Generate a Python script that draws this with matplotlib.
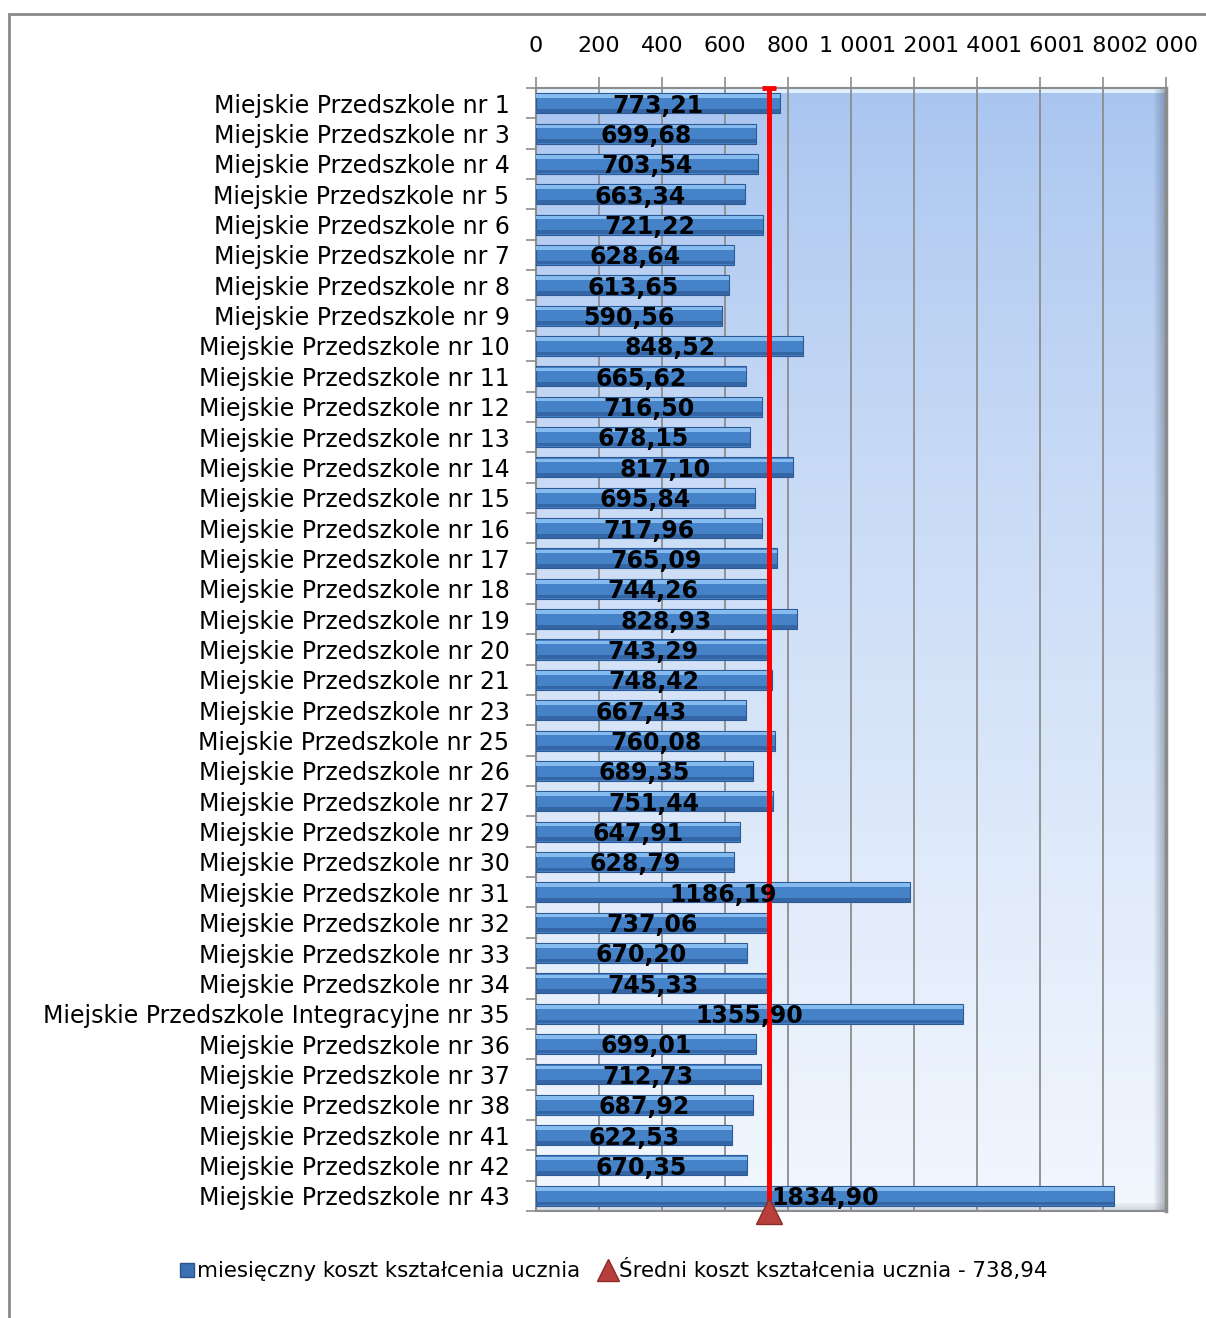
import numpy as np
import matplotlib
matplotlib.use("Agg")
import matplotlib.pyplot as plt
from matplotlib.lines import Line2D
from matplotlib.patches import Rectangle

# Dane: miesięczny koszt kształcenia ucznia w przedszkolach miejskich
przedszkola = [
    "Miejskie Przedszkole nr 1", "Miejskie Przedszkole nr 3", "Miejskie Przedszkole nr 4",
    "Miejskie Przedszkole nr 5", "Miejskie Przedszkole nr 6", "Miejskie Przedszkole nr 7",
    "Miejskie Przedszkole nr 8", "Miejskie Przedszkole nr 9", "Miejskie Przedszkole nr 10",
    "Miejskie Przedszkole nr 11", "Miejskie Przedszkole nr 12", "Miejskie Przedszkole nr 13",
    "Miejskie Przedszkole nr 14", "Miejskie Przedszkole nr 15", "Miejskie Przedszkole nr 16",
    "Miejskie Przedszkole nr 17", "Miejskie Przedszkole nr 18", "Miejskie Przedszkole nr 19",
    "Miejskie Przedszkole nr 20", "Miejskie Przedszkole nr 21", "Miejskie Przedszkole nr 23",
    "Miejskie Przedszkole nr 25", "Miejskie Przedszkole nr 26", "Miejskie Przedszkole nr 27",
    "Miejskie Przedszkole nr 29", "Miejskie Przedszkole nr 30", "Miejskie Przedszkole nr 31",
    "Miejskie Przedszkole nr 32", "Miejskie Przedszkole nr 33", "Miejskie Przedszkole nr 34",
    "Miejskie Przedszkole Integracyjne nr 35", "Miejskie Przedszkole nr 36",
    "Miejskie Przedszkole nr 37", "Miejskie Przedszkole nr 38", "Miejskie Przedszkole nr 41",
    "Miejskie Przedszkole nr 42", "Miejskie Przedszkole nr 43",
]
koszt = [
    773.21, 699.68, 703.54, 663.34, 721.22, 628.64, 613.65, 590.56, 848.52,
    665.62, 716.50, 678.15, 817.10, 695.84, 717.96, 765.09, 744.26, 828.93,
    743.29, 748.42, 667.43, 760.08, 689.35, 751.44, 647.91, 628.79, 1186.19,
    737.06, 670.20, 745.33, 1355.90, 699.01, 712.73, 687.92, 622.53, 670.35,
    1834.90,
]
sredni_koszt = 738.94
x_ticks = [0, 200, 400, 600, 800, 1000, 1200, 1400, 1600, 1800, 2000]

seria_1 = "miesięczny koszt kształcenia ucznia"
seria_2 = "Średni koszt kształcenia ucznia - 738,94"


def format_pl(v):
    return f"{v:.2f}".replace(".", ",")


def main():
    plt.rcParams["font.family"] = ["DejaVu Sans"]
    fig = plt.figure(figsize=(12.06, 13.18), dpi=100)

    # ramka wykresu (szara linia po lewej i u góry)
    fig.patches.append(Rectangle((9 / 1206, -0.1), 1.2, 1 - 14 / 1318 + 0.1,
                                 transform=fig.transFigure, fill=False,
                                 edgecolor="#8a8a8a", lw=2))

    ax = fig.add_axes([536 / 1206, 1 - 1211 / 1318, 630 / 1206, 1123 / 1318])
    n = len(przedszkola)
    y = np.arange(n)

    # tło z gradientem
    grad = np.linspace(0, 1, 256).reshape(-1, 1)
    top = np.array([0.66, 0.77, 0.94])
    bottom = np.array([0.95, 0.97, 0.995])
    img = top + (bottom - top) * grad[:, :, None] ** 0.8
    ax.imshow(img, extent=[0, 1, 0, 1], transform=ax.transAxes, aspect="auto",
              origin="upper", zorder=0)

    # efekt fazowania tła: jasny pasek u góry, cień po prawej i na dole
    px_x = 1 / 630
    px_y = 1 / 1123
    ax.add_patch(Rectangle((0, 1 - 5 * px_y), 1, 5 * px_y, transform=ax.transAxes,
                           color="#dff0ff", lw=0, zorder=0.5))
    for i in range(6):
        ax.add_patch(Rectangle((1 - (12 - i * 2) * px_x, 0), 2 * px_x, 1,
                               transform=ax.transAxes, color="#4a5566",
                               alpha=0.06 + 0.07 * i, lw=0, zorder=0.5))
    for i in range(4):
        ax.add_patch(Rectangle((0, (i * 2) * px_y), 1, 2 * px_y,
                               transform=ax.transAxes, color="#7a8090",
                               alpha=0.25 - 0.05 * i, lw=0, zorder=0.5))

    for xv in x_ticks[1:-1]:
        ax.axvline(xv, color="#8c8c8c", lw=1.3, zorder=1)

    # słupki z efektem 3D
    h = 0.66
    ax.barh(y, koszt, height=h, color="#4682c8", edgecolor="#2d5a94", lw=0.8, zorder=3)
    ax.barh(y - h * 0.35, koszt, height=h * 0.18, color="#86bbf0", lw=0, zorder=4)
    ax.barh(y + h * 0.38, koszt, height=h * 0.18, color="#3466a6", lw=0, zorder=4)

    for yi, v in zip(y, koszt):
        ax.text(v / 2, yi + 0.08, format_pl(v), ha="center", va="center",
                fontsize=17, fontweight="bold", color="black", zorder=7)

    # linia średniej
    ax.axvline(sredni_koszt, color="#ff0000", lw=3.6, zorder=5)
    ax.plot([sredni_koszt], [-0.5], marker="_", ms=10, mew=3.5, color="#ff0000",
            zorder=6, clip_on=False)
    ax.plot([sredni_koszt], [n - 0.5], marker="^", ms=19, color="#b8403c",
            markeredgecolor="#8e2a27", zorder=6, clip_on=False)

    ax.set_xlim(0, 2000)
    ax.set_ylim(n - 0.5, -0.5)

    ax.xaxis.tick_top()
    ax.set_xticks(x_ticks)
    ax.set_xticklabels([f"{v:,}".replace(",", " ") for v in x_ticks])
    ax.tick_params(axis="x", which="major", length=8, width=1.2, color="#8c8c8c",
                   labelsize=16, pad=15)

    ax.set_yticks(y)
    ax.set_yticklabels(przedszkola)
    ax.tick_params(axis="y", which="major", length=0, labelsize=17, pad=19)
    ax.set_yticks(np.arange(n + 1) - 0.5, minor=True)
    ax.tick_params(axis="y", which="minor", length=7, width=1.2, color="#8c8c8c")

    for s in ["left", "top", "bottom"]:
        ax.spines[s].set_color("#8c8c8c")
        ax.spines[s].set_linewidth(1.5)
    ax.spines["right"].set_color("#8c8c8c")
    ax.spines["right"].set_linewidth(2.5)

    handles = [
        Line2D([], [], ls="none", marker="s", ms=10, color="#3b70b3",
               markeredgecolor="#2b5488"),
        Line2D([], [], ls="none", marker="^", ms=16, color="#b8403c",
               markeredgecolor="#8e2a27"),
    ]
    fig.legend(handles, [seria_1, seria_2], loc="center",
               bbox_to_anchor=(0.509, 1 - 1270 / 1318), ncol=2, frameon=False,
               fontsize=15.4, handlelength=0.6, handletextpad=0.2,
               columnspacing=1.0)

    fig.savefig("out.png", dpi=100)


if __name__ == "__main__":
    main()
